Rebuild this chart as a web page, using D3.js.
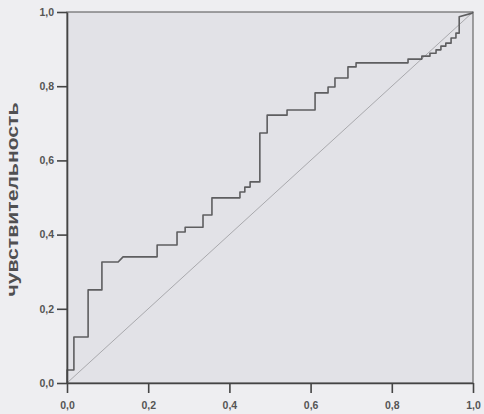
<!DOCTYPE html>
<html>
<head>
<meta charset="utf-8">
<script src="https://cdn.jsdelivr.net/npm/d3@7"></script>
<style>
  html, body { margin: 0; padding: 0; background: #eeeef1; }
  svg { display: block; }
</style>
</head>
<body>
<svg id="chart" width="484" height="414"></svg>
<script>
// ROC curve vertices (1 - specificity, sensitivity)
const fpr = [0, 0, 0.017, 0.017, 0.052, 0.052, 0.086, 0.086, 0.126, 0.138,
  0.222, 0.222, 0.271, 0.271, 0.291, 0.291, 0.335, 0.335, 0.357, 0.357,
  0.426, 0.426, 0.438, 0.438, 0.451, 0.451, 0.475, 0.475, 0.493, 0.493,
  0.542, 0.542, 0.611, 0.611, 0.643, 0.643, 0.660, 0.660, 0.692, 0.692,
  0.712, 0.712, 0.840, 0.840, 0.874, 0.874, 0.894, 0.894, 0.909, 0.909,
  0.921, 0.921, 0.933, 0.933, 0.946, 0.946, 0.958, 0.958, 0.966, 0.966,
  0.998, 1];
const tpr = [0, 0.035, 0.035, 0.124, 0.124, 0.251, 0.251, 0.326, 0.326, 0.340,
  0.340, 0.372, 0.372, 0.407, 0.407, 0.420, 0.420, 0.453, 0.453, 0.499,
  0.499, 0.515, 0.515, 0.528, 0.528, 0.542, 0.542, 0.674, 0.674, 0.722,
  0.722, 0.736, 0.736, 0.782, 0.782, 0.798, 0.798, 0.822, 0.822, 0.852,
  0.852, 0.863, 0.863, 0.873, 0.873, 0.881, 0.881, 0.889, 0.889, 0.898,
  0.898, 0.908, 0.908, 0.916, 0.916, 0.930, 0.930, 0.943, 0.943, 0.987,
  0.997, 1];
const diagonal = [0, 1];
const ticks = [0, 0.2, 0.4, 0.6, 0.8, 1.0];
const yTitle = 'чувствительность';

const svg = d3.select('#chart');
const padL = 67, padT = 12, padR = 473, padB = 383;

const x = d3.scaleLinear().domain([0, 1]).range([padL, padR]);
const y = d3.scaleLinear().domain([0, 1]).range([padB, padT]);
const fmt = d => d3.format('.1f')(d).replace('.', ',');

// plot area
svg.append('rect')
    .attr('x', padL).attr('y', padT)
    .attr('width', padR - padL).attr('height', padB - padT)
    .attr('fill', '#e2e2e7')
    .attr('stroke', '#6a6a6a')
    .attr('stroke-width', 1.2);

// reference diagonal
svg.append('line')
    .attr('x1', x(diagonal[0])).attr('y1', y(diagonal[0]))
    .attr('x2', x(diagonal[1])).attr('y2', y(diagonal[1]))
    .attr('stroke', '#a9a9ad')
    .attr('stroke-width', 1);

// ROC step curve
const pts = fpr.map((f, i) => [f, tpr[i]]);
svg.append('path')
    .datum(pts)
    .attr('fill', 'none')
    .attr('stroke', '#5e5e60')
    .attr('stroke-width', 1.6)
    .attr('stroke-linejoin', 'round')
    .attr('d', d3.line().x(d => x(d[0])).y(d => y(d[1])));

// axes
const xAxis = svg.append('g')
    .attr('transform', `translate(0,${padB})`)
    .call(d3.axisBottom(x).tickValues(ticks).tickFormat(fmt).tickSize(10).tickSizeOuter(0));
const yAxis = svg.append('g')
    .attr('transform', `translate(${padL},0)`)
    .call(d3.axisLeft(y).tickValues(ticks).tickFormat(fmt).tickSize(10).tickSizeOuter(0));

[xAxis, yAxis].forEach(g => {
    g.select('.domain').attr('stroke', '#444').attr('stroke-width', 1.6);
    g.selectAll('.tick line').attr('stroke', '#444').attr('stroke-width', 1.6);
    g.selectAll('.tick text')
        .attr('fill', '#555')
        .attr('font-family', 'Liberation Sans, Arial, sans-serif')
        .attr('font-weight', 'bold')
        .attr('font-size', 10.5);
});
xAxis.selectAll('.tick text').attr('dy', '1.2em');
yAxis.selectAll('.tick text').attr('x', -13);

svg.append('text')
    .attr('transform', `translate(18,${(padT + padB) / 2 + 2}) rotate(-90)`)
    .attr('text-anchor', 'middle')
    .attr('fill', '#505052')
    .attr('font-family', 'Liberation Sans, Arial, sans-serif')
    .attr('font-weight', 'bold')
    .attr('font-size', 16)
    .attr('textLength', 194)
    .attr('lengthAdjust', 'spacingAndGlyphs')
    .text(yTitle);
</script>
</body>
</html>
